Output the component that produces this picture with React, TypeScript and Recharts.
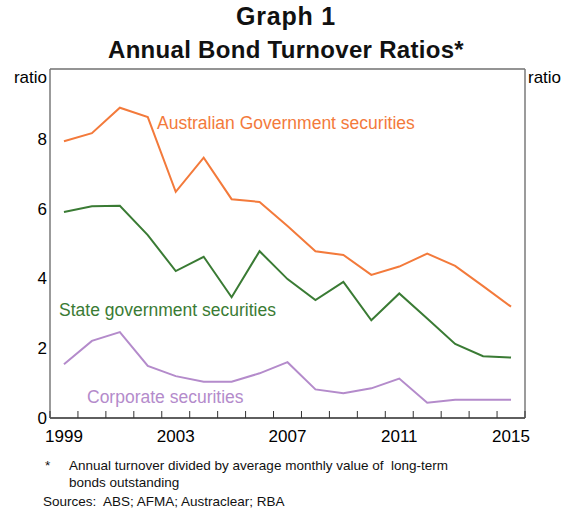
import { LineChart, Line, XAxis, YAxis, CartesianGrid, ReferenceLine } from "recharts";

const years = [1999, 2000, 2001, 2002, 2003, 2004, 2005, 2006, 2007, 2008, 2009, 2010, 2011, 2012, 2013, 2014, 2015];
const agsRatio = [7.93, 8.16, 8.89, 8.62, 6.48, 7.46, 6.27, 6.19, 5.5, 4.78, 4.67, 4.1, 4.34, 4.71, 4.36, 3.78, 3.19];
const stateRatio = [5.9, 6.07, 6.08, 5.24, 4.21, 4.62, 3.46, 4.78, 3.98, 3.38, 3.9, 2.8, 3.57, 2.85, 2.12, 1.77, 1.73];
const corpRatio = [1.54, 2.21, 2.46, 1.49, 1.2, 1.04, 1.04, 1.28, 1.6, 0.82, 0.71, 0.85, 1.13, 0.44, 0.52, 0.52, 0.52];
const xLabels = [1999, 2003, 2007, 2011, 2015];
const yTicks = [0, 2, 4, 6, 8, 10];

const FONT = "'Liberation Sans', Arial, sans-serif";
const ORANGE = "#f37a3b";
const GREEN = "#3a7b34";
const PURPLE = "#b48bcb";

const data = years.map((year, i) => ({
  year,
  ags: agsRatio[i],
  state: stateRatio[i],
  corp: corpRatio[i],
}));

// tick marks sit on year boundaries, labels in the middle of the year
const boundaries = years.map((y) => y - 0.5).concat(years[years.length - 1] + 0.5);

function XTick(props: any) {
  const { x, y, payload } = props;
  if (Number.isInteger(payload.value)) {
    return (
      <text x={x} y={y + 24} textAnchor="middle" fontSize={17} fill="#000" fontFamily={FONT}>
        {payload.value}
      </text>
    );
  }
  return <line x1={x} y1={y} x2={x} y2={y - 7} stroke="#333" strokeWidth={1} />;
}

const hideTop = (v: number) => (v === 10 ? "" : String(v));

export default function App() {
  return (
    <div style={{ position: "absolute", top: 0, left: 0, width: 572, height: 512, background: "#fff" }}>
      <LineChart
        width={572}
        height={512}
        data={data}
        margin={{ top: 69, right: 0, bottom: 64, left: 0 }}
        style={{ fontFamily: FONT }}
      >
        <CartesianGrid vertical={false} stroke="#d9d9d9" strokeWidth={1.5} />
        <XAxis
          dataKey="year"
          type="number"
          domain={[1998.5, 2015.5]}
          ticks={[...boundaries, ...xLabels]}
          interval={0}
          tick={<XTick />}
          tickLine={false}
          tickSize={0}
          tickMargin={0}
          height={30}
          axisLine={{ stroke: "#333", strokeWidth: 1.5 }}
        />
        <YAxis
          yAxisId="left"
          orientation="left"
          domain={[0, 10]}
          ticks={yTicks}
          interval={0}
          width={50}
          tickLine={false}
          tickSize={0}
          tickMargin={3}
          tickFormatter={hideTop}
          tick={{ fill: "#000", fontSize: 17 }}
          axisLine={{ stroke: "#7a7a7a", strokeWidth: 1.5 }}
        />
        <YAxis
          yAxisId="right"
          orientation="right"
          domain={[0, 10]}
          ticks={yTicks}
          interval={0}
          width={47}
          tickLine={false}
          tickSize={0}
          tickMargin={4}
          tickFormatter={hideTop}
          tick={{ fill: "#000", fontSize: 17 }}
          axisLine={{ stroke: "#7a7a7a", strokeWidth: 1.5 }}
        />
        <ReferenceLine yAxisId="left" y={10} stroke="#7a7a7a" strokeWidth={1.5} />
        <Line yAxisId="left" dataKey="ags" stroke={ORANGE} strokeWidth={2} dot={false} isAnimationActive={false} />
        <Line yAxisId="left" dataKey="state" stroke={GREEN} strokeWidth={2} dot={false} isAnimationActive={false} />
        <Line yAxisId="left" dataKey="corp" stroke={PURPLE} strokeWidth={2} dot={false} isAnimationActive={false} />
      </LineChart>
      <svg
        width={572}
        height={512}
        style={{ position: "absolute", top: 0, left: 0, pointerEvents: "none" }}
        fontFamily={FONT}
      >
        <text x={286} y={25} textAnchor="middle" fontSize={25} fontWeight="bold" letterSpacing={0.8} fill="#111">
          Graph 1
        </text>
        <text x={286} y={58} textAnchor="middle" fontSize={24} fontWeight="bold" letterSpacing={0.3} fill="#111">
          Annual Bond Turnover Ratios*
        </text>
        <text x={47} y={83} textAnchor="end" fontSize={17} fill="#000">ratio</text>
        <text x={528} y={83} fontSize={17} fill="#000">ratio</text>
        <text x={157} y={129} fontSize={17.5} fill={ORANGE}>Australian Government securities</text>
        <text x={59} y={316} fontSize={17.5} fill={GREEN}>State government securities</text>
        <text x={87} y={403} fontSize={17.5} fill={PURPLE}>Corporate securities</text>
        <text x={45} y={470} fontSize={13.5} fill="#111">*</text>
        <text x={69} y={470} fontSize={13.5} fill="#111" xmlSpace="preserve">
          Annual turnover divided by average monthly value of  long-term
        </text>
        <text x={69} y={487} fontSize={13.5} fill="#111">bonds outstanding</text>
        <text x={43} y={506} fontSize={13.5} fill="#111" xmlSpace="preserve">Sources:  ABS; AFMA; Austraclear; RBA</text>
      </svg>
    </div>
  );
}
